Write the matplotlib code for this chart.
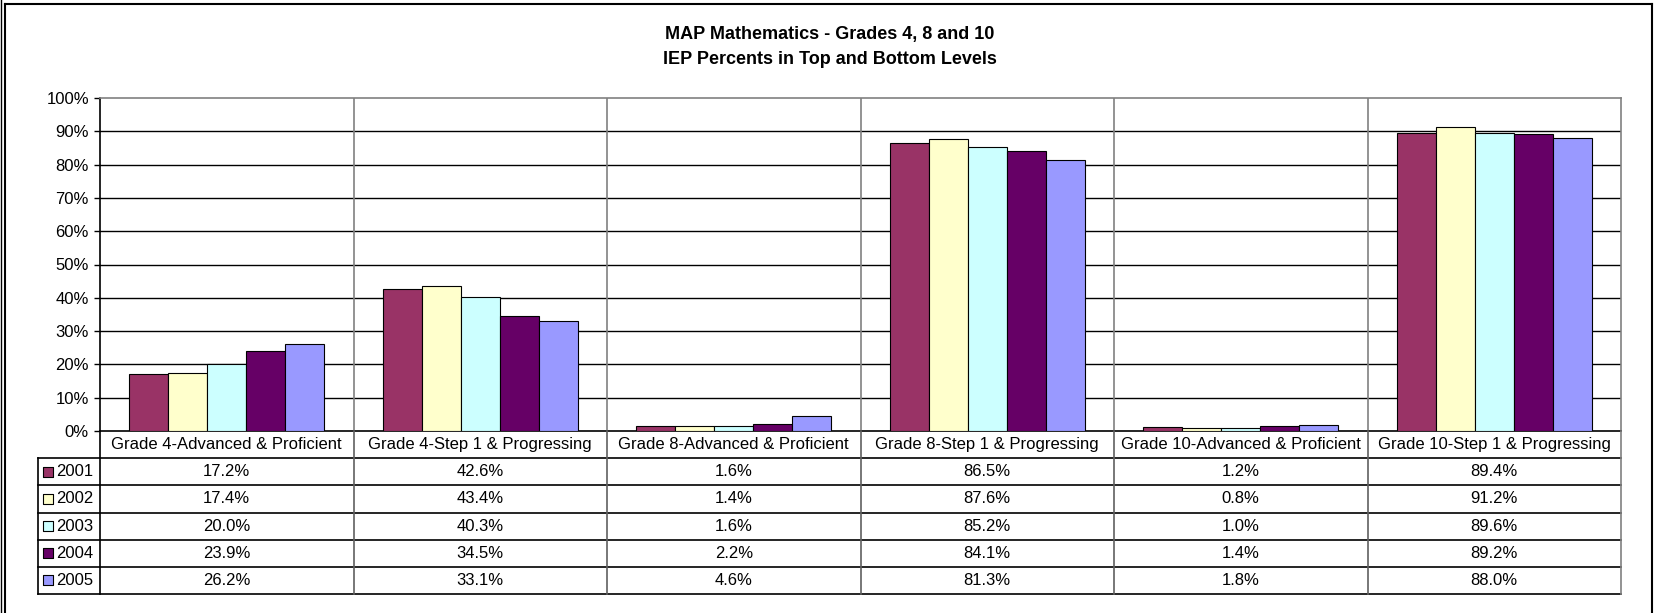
import matplotlib
matplotlib.use("Agg")
import matplotlib.pyplot as plt
import numpy as np

plt.rcParams['font.family'] = ['Liberation Sans', 'DejaVu Sans']

# data
categories = ["Grade 4-Advanced & Proficient", "Grade 4-Step 1 & Progressing",
              "Grade 8-Advanced & Proficient", "Grade 8-Step 1 & Progressing",
              "Grade 10-Advanced & Proficient", "Grade 10-Step 1 & Progressing"]
years = ["2001", "2002", "2003", "2004", "2005"]
v2001 = [17.2, 42.6, 1.6, 86.5, 1.2, 89.4]
v2002 = [17.4, 43.4, 1.4, 87.6, 0.8, 91.2]
v2003 = [20.0, 40.3, 1.6, 85.2, 1.0, 89.6]
v2004 = [23.9, 34.5, 2.2, 84.1, 1.4, 89.2]
v2005 = [26.2, 33.1, 4.6, 81.3, 1.8, 88.0]
series = [v2001, v2002, v2003, v2004, v2005]
colors = ["#993366", "#FFFFCC", "#CCFFFF", "#660066", "#9999FF"]
yticks = [0, 10, 20, 30, 40, 50, 60, 70, 80, 90, 100]

W, H = 1659, 613
fig = plt.figure(figsize=(W / 100, H / 100), dpi=100)

def fx(px):
    return px / W

def fy(py):
    return 1 - py / H

# plot area in pixels
L, R, T, B = 100, 1621, 98, 431
ax = fig.add_axes([fx(L), fy(B), fx(R) - fx(L), fy(T) - fy(B)])
n = len(categories)
bw = 1 / 6.5
x = np.arange(n) + 0.5
for j, (vals, c) in enumerate(zip(series, colors)):
    ax.bar(x + (j - 2) * bw, vals, width=bw, color=c, edgecolor="black", linewidth=0.8, zorder=3)

ax.set_xlim(0, n)
ax.set_ylim(0, 100)
ax.set_yticks(yticks)
ax.set_yticklabels([f"{t}%" for t in yticks], fontsize=12)
ax.set_xticks([])
for t in yticks[1:-1]:
    ax.axhline(t, color="black", linewidth=1, zorder=1)
for i in range(1, n):
    ax.axvline(i, color="#808080", linewidth=1.2, zorder=1)
ax.spines['left'].set_color("black")
ax.spines['bottom'].set_color("black")
ax.spines['top'].set_color("#808080")
ax.spines['right'].set_color("#808080")
for s in ax.spines.values():
    s.set_linewidth(1.2)
ax.tick_params(axis='y', length=4, width=1, pad=4)

# data table below
TL, TB = 38, 594
tax = fig.add_axes([fx(TL), fy(TB), fx(R) - fx(TL), fy(B) - fy(TB)])
cw = (R - L) / n
hw = (L - TL) / cw
tax.set_xlim(-hw, n)
tax.set_ylim(6, 0)
tax.axis("off")
# header row (category labels)
for i, cat in enumerate(categories):
    tax.text(i + 0.5, 0.5, cat, ha="center", va="center", fontsize=12)
# horizontal lines
for r in range(1, 7):
    tax.plot([-hw, n], [r, r], color="black", linewidth=1.2, clip_on=False)
# vertical lines
tax.plot([-hw, -hw], [1, 6], color="black", linewidth=1.2, clip_on=False)
for i in range(0, n + 1):
    tax.plot([i, i], [0, 6], color="#606060" if 0 < i < n else ("black" if i == 0 else "#808080"),
             linewidth=1.2, clip_on=False)
# rows
for j, (yr, vals, c) in enumerate(zip(years, series, colors)):
    yy = j + 1.5
    tax.scatter([-hw + 10 / cw], [yy], marker="s", s=52, color=c, edgecolor="black", linewidth=0.8,
                clip_on=False, zorder=5)
    tax.text(-hw + 18 / cw, yy, yr, ha="left", va="center", fontsize=12)
    for i, v in enumerate(vals):
        tax.text(i + 0.5, yy, f"{v:.1f}%", ha="center", va="center", fontsize=12)

# title
fig.text(0.5, fy(35), "MAP Mathematics - Grades 4, 8 and 10", ha="center", va="center",
         fontsize=13, fontweight="bold")
fig.text(0.5, fy(60), "IEP Percents in Top and Bottom Levels", ha="center", va="center",
         fontsize=13, fontweight="bold")

# outer border
fig.add_artist(plt.Line2D([fx(5), fx(5)], [0, fy(4)], color="black", linewidth=1.5))
fig.add_artist(plt.Line2D([fx(1), fx(1)], [0, 1], color="black", linewidth=1))
fig.add_artist(plt.Line2D([fx(5), fx(1652)], [fy(4), fy(4)], color="black", linewidth=1.5))
fig.add_artist(plt.Line2D([fx(1652), fx(1652)], [0, fy(4)], color="black", linewidth=1.5))

fig.savefig("out.png", dpi=100)
